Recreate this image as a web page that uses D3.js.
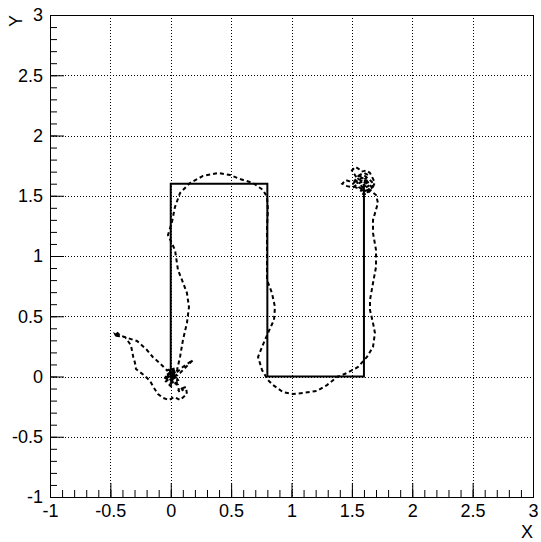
<!DOCTYPE html>
<html>
<head>
<meta charset="utf-8">
<script src="https://cdn.jsdelivr.net/npm/d3@7"></script>
<style>
  body { margin: 0; background: #fff; }
  svg { display: block; }
  text { font-family: "Liberation Sans", Arial, sans-serif; }
</style>
</head>
<body>
<div id="chart-area"></div>
<script>
// tick values
let majorTicks = [-1, -0.5, 0, 0.5, 1, 1.5, 2, 2.5, 3];
let minorTicks = [-1, -0.9, -0.8, -0.7, -0.6, -0.5, -0.4, -0.3, -0.2, -0.1, 0, 0.1, 0.2, 0.3, 0.4,
    0.5, 0.6, 0.7, 0.8, 0.9, 1, 1.1, 1.2, 1.3, 1.4, 1.5, 1.6, 1.7, 1.8, 1.9, 2, 2.1, 2.2, 2.3,
    2.4, 2.5, 2.6, 2.7, 2.8, 2.9, 3];

// target path (solid)
let targetX = [0, 0, 0.8, 0.8, 1.6, 1.6];
let targetY = [0, 1.6, 1.6, 0, 0, 1.6];

// measured track (dashed), [x, y]
let track = [
    [0, 0], [0.03, 0.04], [-0.03, 0.02], [0.01, -0.05], [-0.05, -0.01], [0.05, 0.01], [0, 0.07], [-0.03, 0.05],
    [-0.09, 0.11], [-0.147, 0.16], [-0.197, 0.22], [-0.28, 0.295], [-0.36, 0.32], [-0.43, 0.345],
    [-0.45, 0.36], [-0.44, 0.34], [-0.46, 0.35], [-0.45, 0.33], [-0.43, 0.35], [-0.44, 0.36], [-0.46, 0.34],
    [-0.38, 0.328], [-0.33, 0.26], [-0.31, 0.16], [-0.296, 0.112], [-0.288, 0.062],
    [-0.213, 0.004], [-0.172, -0.037], [-0.139, -0.095], [-0.106, -0.145], [-0.064, -0.178],
    [-0.014, -0.195], [0.027, -0.17], [0.077, -0.195], [0.134, -0.145], [0.126, -0.087],
    [0.09, -0.1], [0.06, -0.12], [0.08, -0.09], [0.1, -0.11], [0.07, -0.13], [0.06, -0.07], [0.027, -0.029],
    [-0.04, -0.012], [0.04, 0.05], [-0.01, -0.06], [0.06, -0.03], [0.01, 0.04], [-0.05, 0.004],
    [0.05, -0.07], [-0.02, 0.07], [0.02, 0.004], [-0.04, -0.04], [0, -0.08], [0.05, -0.05],
    [0.02, 0.08], [-0.03, 0.03], [0.04, -0.01], [-0.01, -0.03],
    [0.077, 0.029], [0.126, 0.079], [0.184, 0.137], [0.1, 0.079], [0.043, 0.029],
    [0.052, 0.054], [0.077, 0.162], [0.101, 0.303], [0.134, 0.444], [0.151, 0.577], [0.134, 0.693],
    [0.093, 0.801], [0.06, 0.884], [0.035, 1.05], [-0.023, 1.174], [0.01, 1.282], [0.035, 1.407],
    [0.077, 1.523], [0.159, 1.606], [0.267, 1.664], [0.391, 1.689], [0.491, 1.672], [0.573, 1.639],
    [0.681, 1.606], [0.764, 1.548], [0.797, 1.49], [0.805, 1.382], [0.797, 1.241], [0.797, 1.108],
    [0.797, 0.967], [0.797, 0.801], [0.838, 0.693], [0.863, 0.577], [0.855, 0.469], [0.805, 0.361],
    [0.756, 0.245], [0.723, 0.162], [0.756, 0.054], [0.805, -0.029], [0.847, -0.071], [0.929, -0.129],
    [1.012, -0.145], [1.095, -0.137], [1.211, -0.12], [1.294, -0.071], [1.377, -0.004], [1.46, 0.029],
    [1.551, 0.079], [1.625, 0.162], [1.675, 0.245], [1.691, 0.361], [1.675, 0.444], [1.65, 0.552],
    [1.65, 0.635], [1.675, 0.776], [1.7, 0.909], [1.7, 1.05], [1.675, 1.191], [1.675, 1.299],
    [1.716, 1.44], [1.7, 1.506],
    [1.6, 1.59], [1.63, 1.61], [1.59, 1.64], [1.56, 1.6], [1.6, 1.56], [1.65, 1.59], [1.62, 1.63],
    [1.58, 1.65], [1.54, 1.62], [1.56, 1.57], [1.61, 1.54], [1.66, 1.56], [1.68, 1.6], [1.64, 1.64],
    [1.6, 1.67], [1.55, 1.66], [1.52, 1.62], [1.53, 1.57], [1.58, 1.55], [1.63, 1.53], [1.67, 1.57],
    [1.63, 1.6], [1.59, 1.62], [1.55, 1.64], [1.51, 1.6], [1.48, 1.62], [1.45, 1.63], [1.42, 1.6],
    [1.46, 1.58], [1.51, 1.57], [1.55, 1.6], [1.59, 1.62], [1.62, 1.65], [1.64, 1.67], [1.6, 1.69],
    [1.56, 1.67], [1.54, 1.65], [1.52, 1.68], [1.5, 1.71], [1.53, 1.74], [1.56, 1.72], [1.58, 1.7],
    [1.62, 1.71], [1.65, 1.69], [1.67, 1.65], [1.69, 1.61], [1.67, 1.56], [1.64, 1.53], [1.6, 1.51],
    [1.57, 1.53], [1.59, 1.58]
];

let target = targetX.map(function(d, i){ return { x: d, y: targetY[i] }; });
let trackData = track.map(function(d){ return { x: d[0], y: d[1] }; });

let W = 541, H = 542;
let margin = { left: 50, right: 8, top: 15, bottom: 45 };
let width = W - margin.left - margin.right,
    height = H - margin.top - margin.bottom;

let svg = d3.select("#chart-area")
    .append("svg")
    .attr("width", W)
    .attr("height", H);

svg.append("rect")
    .attr("width", W)
    .attr("height", H)
    .attr("fill", "#fff");

let g = svg.append("g")
    .attr("transform", "translate(" + margin.left + "," + margin.top + ")");

// Scales
let x = d3.scaleLinear().domain([-1, 3]).range([0, width]);
let y = d3.scaleLinear().domain([-1, 3]).range([height, 0]);

// Grid
let grid = g.append("g").attr("class", "grid");
grid.selectAll("line.gx")
    .data(majorTicks.slice(1, -1))
    .enter().append("line")
        .attr("x1", function(d){ return Math.round(x(d)) + 0.5; })
        .attr("x2", function(d){ return Math.round(x(d)) + 0.5; })
        .attr("y1", 0)
        .attr("y2", height)
        .attr("stroke", "#000")
        .attr("stroke-dasharray", "1,2");
grid.selectAll("line.gy")
    .data(majorTicks.slice(1, -1))
    .enter().append("line")
        .attr("y1", function(d){ return Math.round(y(d)) + 0.5; })
        .attr("y2", function(d){ return Math.round(y(d)) + 0.5; })
        .attr("x1", 0)
        .attr("x2", width)
        .attr("stroke", "#000")
        .attr("stroke-dasharray", "1,2");

// X Axis (minor + major)
g.append("g")
    .attr("transform", "translate(0," + height + ")")
    .call(d3.axisBottom(x).tickValues(minorTicks).tickSize(-7).tickSizeOuter(0).tickFormat(""))
    .call(function(a){ a.select(".domain").remove(); });
let xAxis = g.append("g")
    .attr("transform", "translate(0," + height + ")")
    .call(d3.axisBottom(x).tickValues(majorTicks).tickSize(-14).tickSizeOuter(0)
        .tickPadding(7).tickFormat(function(d){ return String(d); }));
xAxis.select(".domain").remove();
xAxis.selectAll("text").attr("font-size", "18px").attr("fill", "#000");

// Y Axis (minor + major)
g.append("g")
    .call(d3.axisLeft(y).tickValues(minorTicks).tickSize(-7).tickSizeOuter(0).tickFormat(""))
    .call(function(a){ a.select(".domain").remove(); });
let yAxis = g.append("g")
    .call(d3.axisLeft(y).tickValues(majorTicks).tickSize(-14).tickSizeOuter(0)
        .tickPadding(7).tickFormat(function(d){ return String(d); }));
yAxis.select(".domain").remove();
yAxis.selectAll("text").attr("font-size", "18px").attr("fill", "#000");

g.selectAll(".tick line").attr("stroke", "#000");

// Frame
g.append("rect")
    .attr("x", 0.5)
    .attr("y", 0.5)
    .attr("width", width)
    .attr("height", height)
    .attr("fill", "none")
    .attr("stroke", "#000");

// Axis titles
g.append("text")
    .attr("x", width)
    .attr("y", height + 41)
    .attr("text-anchor", "end")
    .attr("font-size", "18px")
    .text("X");

g.append("text")
    .attr("transform", "translate(" + (-28) + ",0) rotate(-90)")
    .attr("text-anchor", "end")
    .attr("font-size", "18px")
    .text("Y");

// Lines
let line = d3.line()
    .x(function(d){ return x(d.x); })
    .y(function(d){ return y(d.y); });

g.append("path")
    .datum(target)
    .attr("fill", "none")
    .attr("stroke", "#000")
    .attr("stroke-width", 2)
    .attr("d", line);

g.append("path")
    .datum(trackData)
    .attr("fill", "none")
    .attr("stroke", "#000")
    .attr("stroke-width", 2)
    .attr("stroke-dasharray", "4,3")
    .attr("d", line);
</script>
</body>
</html>
